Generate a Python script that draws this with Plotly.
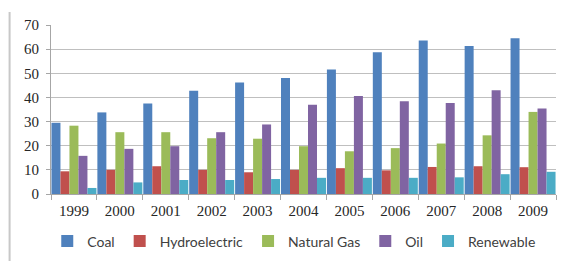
import plotly.graph_objects as go

years = ["1999", "2000", "2001", "2002", "2003", "2004", "2005", "2006", "2007", "2008", "2009"]
coal = [29.5, 33.8, 37.5, 42.8, 46.2, 48.0, 51.6, 58.7, 63.6, 61.3, 64.5]
hydro = [9.4, 10.0, 11.5, 10.0, 9.0, 10.0, 10.7, 9.8, 11.2, 11.5, 11.1]
gas = [28.3, 25.6, 25.6, 23.1, 22.9, 19.8, 17.7, 19.0, 20.9, 24.3, 34.0]
oil = [15.8, 18.7, 19.8, 25.6, 28.8, 37.0, 40.6, 38.4, 37.7, 43.0, 35.4]
renew = [2.5, 4.8, 5.8, 5.8, 6.2, 6.7, 6.7, 6.7, 6.9, 8.2, 9.2]

series = [
    ("Coal", coal, "#4F81BD"),
    ("Hydroelectric", hydro, "#C0504D"),
    ("Natural Gas", gas, "#9BBB59"),
    ("Oil", oil, "#8064A2"),
    ("Renewable", renew, "#4BACC6"),
]

serif = "Times New Roman, Liberation Serif, DejaVu Serif, serif"

fig = go.Figure()
for name, vals, color in series:
    fig.add_trace(go.Bar(x=years, y=vals, name=name, marker=dict(color=color, line=dict(width=0))))

# page body has an 8px margin, so the figure is sized/offset to compensate
fig.update_layout(
    width=558, height=253,
    margin=dict(l=43, r=10, t=17, b=67, autoexpand=False),
    paper_bgcolor="white", plot_bgcolor="white",
    barmode="group", bargap=0.02, bargroupgap=0,
    showlegend=True,
    legend=dict(orientation="h", xref="container", yref="container",
                x=0.513, xanchor="center", y=0.077, yanchor="middle",
                font=dict(family="Lato", size=14, color="#404040"),
                itemwidth=30, tracegroupgap=0),
    xaxis=dict(showline=True, linecolor="#a6a6a6", linewidth=1, automargin=False,
               ticks="outside", tickson="boundaries", ticklen=5, tickcolor="#a6a6a6",
               ticklabelstandoff=3,
               tickfont=dict(family=serif, size=15, color="#262626"),
               showgrid=False),
    yaxis=dict(range=[0, 70], dtick=10, showline=True, linecolor="#a6a6a6", linewidth=1,
               automargin=False, ticks="outside", ticklen=4, tickcolor="#a6a6a6",
               ticklabelstandoff=4,
               gridcolor="#bfbfbf", gridwidth=1, zeroline=False,
               tickfont=dict(family=serif, size=15, color="#262626")),
    shapes=[dict(type="line", xref="paper", yref="paper",
                 x0=-0.082, x1=-0.082, y0=1.077, y1=-0.5,
                 line=dict(color="#c8c8c8", width=2))],
)

fig.write_html("out.html")
